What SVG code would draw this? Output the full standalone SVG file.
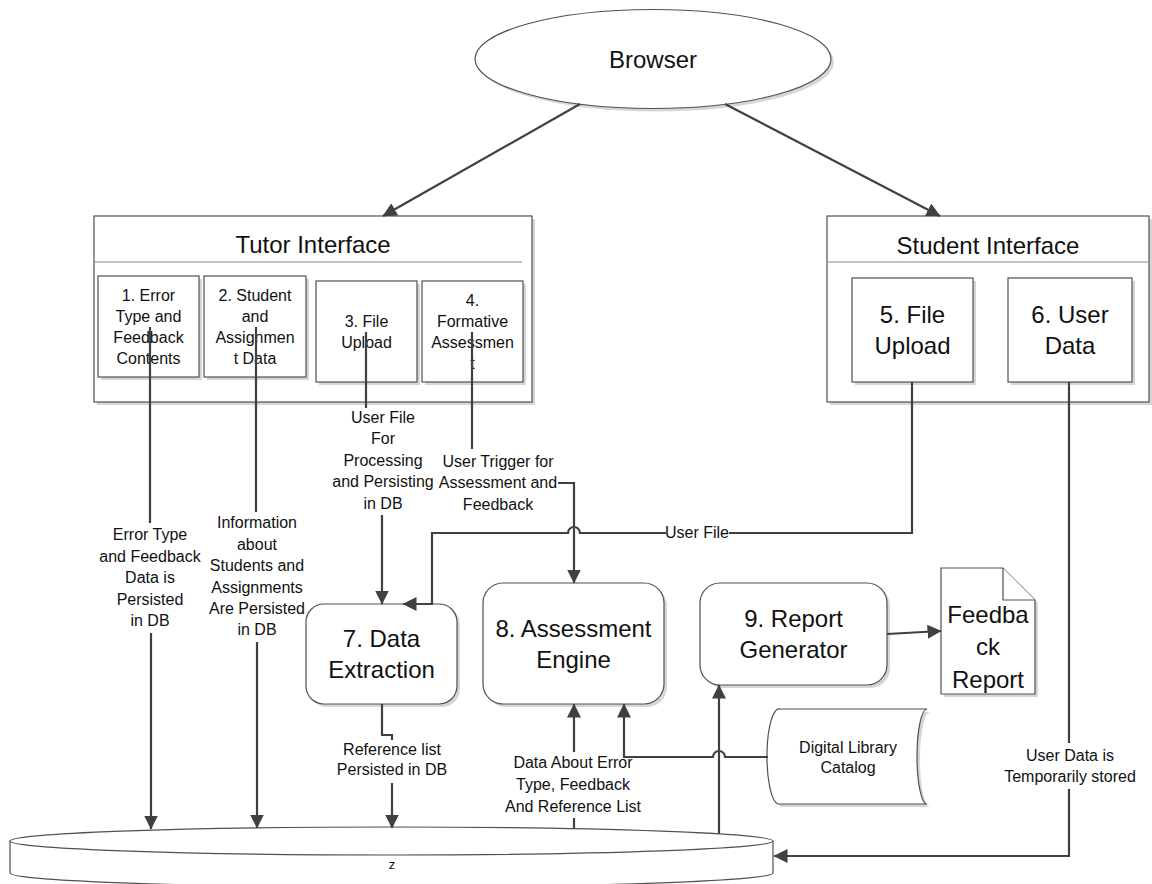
<svg xmlns="http://www.w3.org/2000/svg" width="1152" height="884" viewBox="0 0 1152 884">
<defs>
  <marker id="arrow" viewBox="0 0 14 14" refX="13.5" refY="7" markerWidth="14" markerHeight="14" markerUnits="userSpaceOnUse" orient="auto">
    <path d="M0,0 L14,7 L0,14 z" fill="#404040"/>
  </marker>
</defs>
<style>
  text{font-family:"Liberation Sans",Arial,sans-serif;fill:#111;text-anchor:middle}
  .big{font-size:24px}
  .sm{font-size:16px}
  .tiny{font-size:13px}
  .shadow{fill:#d6d6d6;stroke:none}
  .box{fill:#fff;stroke:#505050;stroke-width:1.2}
  .sep{stroke:#8a8a8a;stroke-width:1.2}
  .line{fill:none;stroke:#404040;stroke-width:2.2}
  .arr{marker-end:url(#arrow)}
</style>
<rect width="1152" height="884" fill="#fff"/>

<!-- Browser -->
<g id="browser">
  <ellipse class="shadow" cx="656" cy="62" rx="178" ry="49.5"/>
  <ellipse class="box" cx="653" cy="59" rx="178" ry="49.5"/>
  <text class="big" x="653" y="68">Browser</text>
</g>

<!-- Tutor Interface -->
<g id="tutor-interface">
  <rect class="shadow" x="97" y="219" width="438" height="186"/>
  <rect class="box" x="94" y="216" width="438" height="186"/>
  <line class="sep" x1="94" y1="262" x2="522" y2="262"/>
  <text class="big" x="313" y="253">Tutor Interface</text>
</g>
<g id="node1">
  <rect class="shadow" x="101" y="279" width="101" height="101"/>
  <rect class="box" x="98" y="276" width="101" height="101"/>
  <text class="sm" x="148.5" y="301">1. Error</text>
  <text class="sm" x="148.5" y="322">Type and</text>
  <text class="sm" x="148.5" y="343">Feedback</text>
  <text class="sm" x="148.5" y="364">Contents</text>
</g>
<g id="node2">
  <rect class="shadow" x="207" y="279" width="102" height="101"/>
  <rect class="box" x="204" y="276" width="102" height="101"/>
  <text class="sm" x="255" y="301">2. Student</text>
  <text class="sm" x="255" y="322">and</text>
  <text class="sm" x="255" y="343">Assignmen</text>
  <text class="sm" x="255" y="364">t Data</text>
</g>
<g id="node3">
  <rect class="shadow" x="319" y="284" width="101" height="101"/>
  <rect class="box" x="316" y="281" width="101" height="101"/>
  <text class="sm" x="366.5" y="327">3. File</text>
  <text class="sm" x="366.5" y="348">Upload</text>
</g>
<g id="node4">
  <rect class="shadow" x="425" y="284" width="101" height="101"/>
  <rect class="box" x="422" y="281" width="101" height="101"/>
  <text class="sm" x="472.5" y="306">4.</text>
  <text class="sm" x="472.5" y="327">Formative</text>
  <text class="sm" x="472.5" y="348">Assessmen</text>
  <text class="sm" x="472.5" y="369">t</text>
</g>

<!-- Student Interface -->
<g id="student-interface">
  <rect class="shadow" x="830" y="219" width="322" height="186"/>
  <rect class="box" x="827" y="216" width="322" height="186"/>
  <line class="sep" x1="827" y1="262" x2="1149" y2="262"/>
  <text class="big" x="988" y="254">Student Interface</text>
</g>
<g id="node5">
  <rect class="shadow" x="855" y="281" width="121" height="104"/>
  <rect class="box" x="852" y="278" width="121" height="104"/>
  <text class="big" x="912.5" y="323">5. File</text>
  <text class="big" x="912.5" y="354">Upload</text>
</g>
<g id="node6">
  <rect class="shadow" x="1011" y="281" width="124" height="104"/>
  <rect class="box" x="1008" y="278" width="124" height="104"/>
  <text class="big" x="1070" y="323">6. User</text>
  <text class="big" x="1070" y="354">Data</text>
</g>

<!-- Processes -->
<g id="node7">
  <rect class="shadow" x="309" y="607" width="151" height="100" rx="18"/>
  <rect class="box" x="306" y="604" width="151" height="100" rx="18"/>
  <text class="big" x="381.5" y="647">7. Data</text>
  <text class="big" x="381.5" y="678">Extraction</text>
</g>
<g id="node8">
  <rect class="shadow" x="486" y="586" width="181" height="121" rx="20"/>
  <rect class="box" x="483" y="583" width="181" height="121" rx="20"/>
  <text class="big" x="573.5" y="637">8. Assessment</text>
  <text class="big" x="573.5" y="668">Engine</text>
</g>
<g id="node9">
  <rect class="shadow" x="703" y="586" width="187" height="102" rx="20"/>
  <rect class="box" x="700" y="583" width="187" height="102" rx="20"/>
  <text class="big" x="793.5" y="627">9. Report</text>
  <text class="big" x="793.5" y="658">Generator</text>
</g>

<!-- Feedback Report document -->
<g id="feedback-report">
  <path class="shadow" d="M944,571 L1006,571 L1038,603 L1038,697 L944,697 Z"/>
  <path class="box" d="M941,568 L1003,568 L1035,600 L1035,694 L941,694 Z"/>
  <path class="box" d="M1003,568 L1003,600 L1035,600" fill="none"/>
  <text class="big" x="988" y="623">Feedba</text>
  <text class="big" x="988" y="655">ck</text>
  <text class="big" x="988" y="688">Report</text>
</g>

<!-- Digital Library Catalog (stored data) -->
<g id="digital-library">
  <path class="shadow" d="M783,712 L930,712 A10,47.5 0 0 0 930,807 L781,807 A12,47.5 0 0 1 783,712 Z"/>
  <path class="box" d="M780,709 L927,709 A10,47.5 0 0 0 927,804 L778,804 A12,47.5 0 0 1 780,709 Z"/>
  <text class="sm" x="848" y="753">Digital Library</text>
  <text class="sm" x="848" y="773">Catalog</text>
</g>

<!-- Database -->
<g id="database">
  <path class="box" d="M10,841 L10,873 A381.5,14 0 0 0 773,873 L773,841"/>
  <ellipse class="box" cx="391.5" cy="841" rx="381.5" ry="14"/>
  <text class="tiny" x="392" y="869">z</text>
</g>

<!-- Connectors -->
<g id="connectors">
  <line class="line arr" x1="580" y1="104" x2="383" y2="216"/>
  <line class="line arr" x1="725" y1="104" x2="940" y2="216"/>

  <!-- 1 -> DB -->
  <line class="line" x1="150" y1="327" x2="150" y2="523"/>
  <line class="line arr" x1="151" y1="633" x2="151" y2="829"/>
  <text class="sm" x="150" y="540">Error Type</text>
  <text class="sm" x="150" y="562">and Feedback</text>
  <text class="sm" x="150" y="583">Data is</text>
  <text class="sm" x="150" y="605">Persisted</text>
  <text class="sm" x="150" y="626">in DB</text>

  <!-- 2 -> DB -->
  <line class="line" x1="256" y1="327" x2="256" y2="512"/>
  <line class="line arr" x1="257" y1="642" x2="257" y2="828"/>
  <text class="sm" x="257" y="528">Information</text>
  <text class="sm" x="257" y="550">about</text>
  <text class="sm" x="257" y="571">Students and</text>
  <text class="sm" x="257" y="593">Assignments</text>
  <text class="sm" x="257" y="614">Are Persisted</text>
  <text class="sm" x="257" y="635">in DB</text>

  <!-- 3 -> 7 -->
  <line class="line" x1="366" y1="332" x2="366" y2="408"/>
  <line class="line arr" x1="382" y1="515" x2="382" y2="604"/>
  <text class="sm" x="383" y="423">User File</text>
  <text class="sm" x="383" y="444">For</text>
  <text class="sm" x="383" y="466">Processing</text>
  <text class="sm" x="383" y="487">and Persisting</text>
  <text class="sm" x="383" y="509">in DB</text>

  <!-- 4 -> 8 -->
  <line class="line" x1="472" y1="332" x2="472" y2="449"/>
  <path class="line arr" d="M558,483 L574,483 L574,583"/>
  <text class="sm" x="498" y="467">User Trigger for</text>
  <text class="sm" x="498" y="488">Assessment and</text>
  <text class="sm" x="498" y="510">Feedback</text>

  <!-- 5 -> 7 -->
  <path class="line" d="M912,382 L912,533 L729,533"/>
  <path class="line arr" d="M666,533 L580,533 A6,6 0 0 0 568,533 L432,533 L432,604 L403,604"/>
  <text class="sm" x="697" y="538">User File</text>

  <!-- 7 -> DB -->
  <path class="line" d="M382,704 L382,735 L392,735 L392,740"/>
  <line class="line arr" x1="392" y1="783" x2="392" y2="828"/>
  <text class="sm" x="392" y="755">Reference list</text>
  <text class="sm" x="392" y="775">Persisted in DB</text>

  <!-- DB -> 8 -->
  <line class="line" x1="574" y1="829" x2="574" y2="818"/>
  <line class="line arr" x1="574" y1="752" x2="574" y2="704"/>
  <text class="sm" x="573" y="768">Data About Error</text>
  <text class="sm" x="573" y="790">Type, Feedback</text>
  <text class="sm" x="573" y="812">And Reference List</text>

  <!-- Digital Library -> 8 -->
  <path class="line arr" d="M768,757 L725,757 A6,6 0 0 0 713,757 L624,757 L624,704"/>

  <!-- DB -> 9 -->
  <line class="line arr" x1="719" y1="834" x2="719" y2="685"/>

  <!-- 9 -> Feedback Report -->
  <line class="line arr" x1="887" y1="634" x2="941" y2="631"/>

  <!-- 6 -> DB -->
  <line class="line" x1="1069" y1="382" x2="1069" y2="743"/>
  <path class="line arr" d="M1069,789 L1069,856 L774,856"/>
  <text class="sm" x="1070" y="761">User Data is</text>
  <text class="sm" x="1070" y="782">Temporarily stored</text>
</g>
</svg>
